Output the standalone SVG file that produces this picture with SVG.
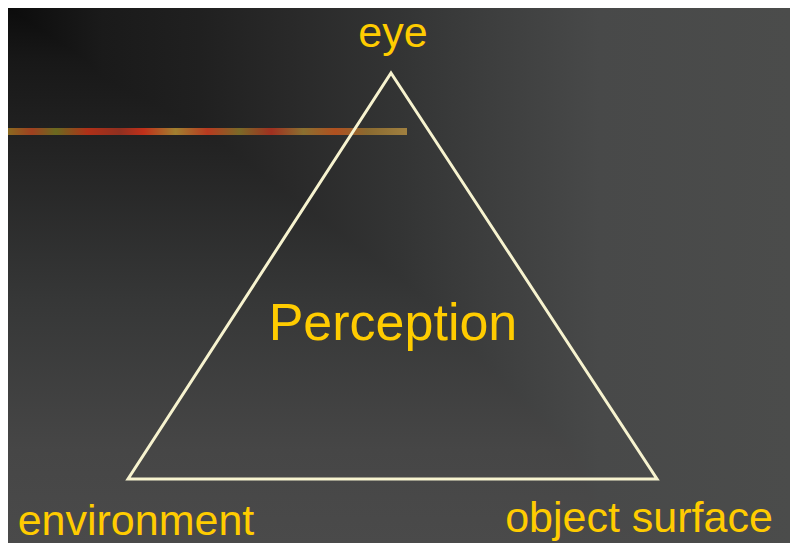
<svg xmlns="http://www.w3.org/2000/svg" width="790" height="543" viewBox="0 0 790 543">
<defs>
<linearGradient id="bgH" gradientUnits="userSpaceOnUse" x1="8" y1="0" x2="790" y2="0">
<stop offset="0" stop-color="#0c0c0c"/>
<stop offset="0.12" stop-color="#1a1a1a"/>
<stop offset="0.245" stop-color="#202020"/>
<stop offset="0.373" stop-color="#2a2a2a"/>
<stop offset="0.5" stop-color="#333434"/>
<stop offset="0.616" stop-color="#3d3e3e"/>
<stop offset="0.757" stop-color="#484949"/>
<stop offset="1" stop-color="#4b4c4b"/>
</linearGradient>
<linearGradient id="bgV" gradientUnits="userSpaceOnUse" x1="0" y1="8" x2="0" y2="543">
<stop offset="0" stop-color="#0c0c0c"/>
<stop offset="0.1" stop-color="#181818"/>
<stop offset="0.265" stop-color="#232323"/>
<stop offset="0.546" stop-color="#363737"/>
<stop offset="0.826" stop-color="#464646"/>
<stop offset="1" stop-color="#4a4a4a"/>
</linearGradient>
<linearGradient id="strip" x1="0" y1="0" x2="1" y2="0">
<stop offset="0" stop-color="#8a6a20"/>
<stop offset="0.06" stop-color="#a04020"/>
<stop offset="0.12" stop-color="#6a6a20"/>
<stop offset="0.2" stop-color="#b03018"/>
<stop offset="0.28" stop-color="#903020"/>
<stop offset="0.34" stop-color="#c0301a"/>
<stop offset="0.42" stop-color="#a08030"/>
<stop offset="0.5" stop-color="#b83a20"/>
<stop offset="0.58" stop-color="#7a6a28"/>
<stop offset="0.66" stop-color="#a03020"/>
<stop offset="0.74" stop-color="#8a7030"/>
<stop offset="0.82" stop-color="#b05020"/>
<stop offset="0.9" stop-color="#8a6a30"/>
<stop offset="1" stop-color="#a08040"/>
</linearGradient>
<style>
.lbl{font-family:"Liberation Sans",Arial,sans-serif;fill:#ffcc00;text-anchor:middle}
.edge{fill:none;stroke:#f7f3cf;stroke-width:3;stroke-linejoin:miter}
</style>
</defs>
<rect x="0" y="0" width="790" height="543" fill="#ffffff"/>
<g style="isolation:isolate">
<rect x="8" y="8" width="782" height="535" fill="url(#bgH)"/>
<rect x="8" y="8" width="782" height="535" fill="url(#bgV)" style="mix-blend-mode:lighten"/>
</g>
<rect x="8" y="128" width="399" height="7" fill="url(#strip)"/>
<g id="connectors">
<path class="edge" d="M391 73 L657 479 L128 479 Z"/>
</g>
<g id="eye"><text class="lbl" x="393" y="47" font-size="43">eye</text></g>
<g id="perception"><text class="lbl" x="393" y="340" font-size="52">Perception</text></g>
<g id="environment"><text class="lbl" x="136" y="535" font-size="43">environment</text></g>
<g id="object-surface"><text class="lbl" x="639" y="532" font-size="43">object surface</text></g>
</svg>
